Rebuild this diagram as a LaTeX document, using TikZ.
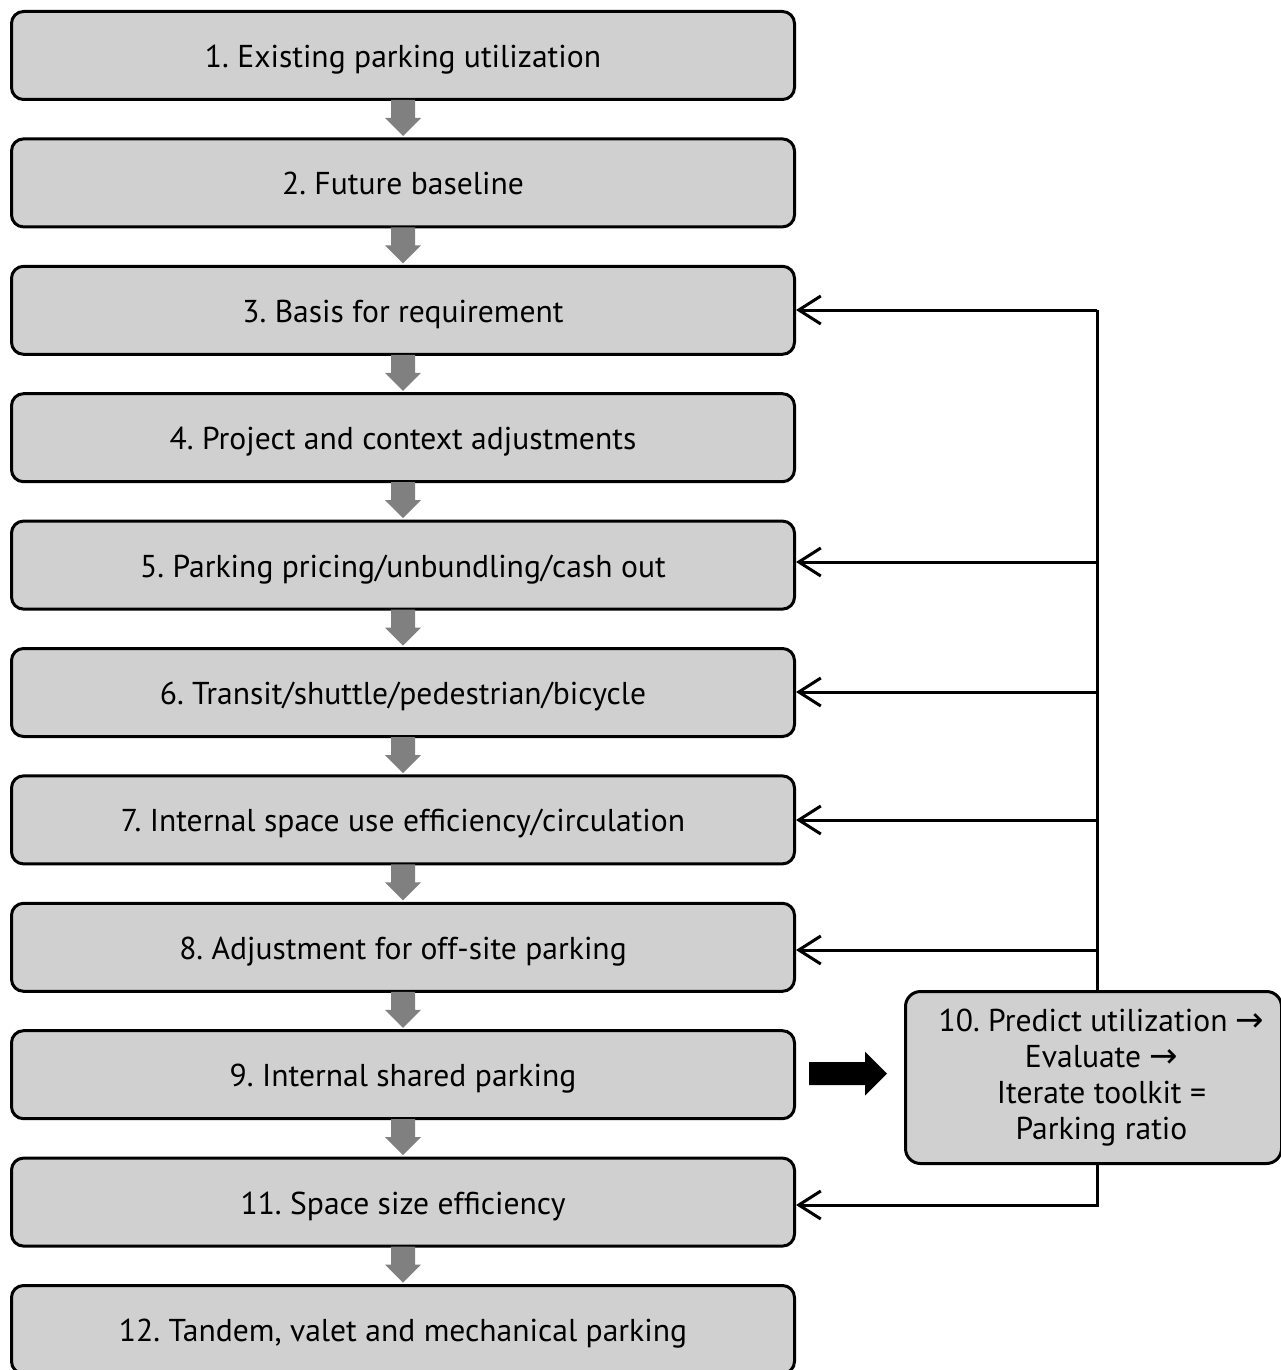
\documentclass[tikz,border=0pt]{standalone}
\usepackage{fontspec}
\setmainfont{PT Sans}
\newfontfamily\symfont{DejaVu Sans}
\usetikzlibrary{arrows.meta}
\newcommand{\rarr}{{\symfont\fontsize{17pt}{15pt}\selectfont→}}
\tikzset{
  x=0.5pt, y=-0.5pt,
  stepbox/.style={draw=black, line width=1.5pt, fill=boxgray, rounded corners=6pt,
    minimum width=391.5pt, minimum height=44pt, inner sep=0pt,
    text height=14pt, text depth=2pt,
    font=\fontsize{15.8pt}{18pt}\selectfont, anchor=north west},
  bigbox/.style={draw=black, line width=1.5pt, fill=boxgray, rounded corners=7.5pt,
    minimum width=188pt, minimum height=86pt, inner sep=0pt, align=center,
    font=\fontsize{15.8pt}{18pt}\selectfont, anchor=north west},
  fb/.style={line width=1.5pt, -{Straight Barb[length=11pt,width=14pt,line width=1.5pt]}},
}
\definecolor{boxgray}{HTML}{D0D0D0}
\definecolor{arrowgray}{HTML}{808080}
\frenchspacing
\begin{document}
\begin{tikzpicture}
\frenchspacing
\useasboundingbox (0,0) rectangle (1280,1370);
% main boxes
\node[stepbox] (b1) at (10,10) {1. Existing parking utilization};
\node[stepbox] (b2) at (10,137.4) {2. Future baseline};
\node[stepbox] (b3) at (10,264.8) {3. Basis for requirement};
\node[stepbox] (b4) at (10,392.2) {4. Project and context adjustments};
\node[stepbox] (b5) at (10,519.6) {5. Parking pricing/unbundling/cash out};
\node[stepbox] (b6) at (10,647) {6. Transit/shuttle/pedestrian/bicycle};
\node[stepbox] (b7) at (10,774.4) {7. Internal space use efficiency/circulation};
\node[stepbox] (b8) at (10,901.8) {8. Adjustment for off-site parking};
\node[stepbox] (b9) at (10,1029.2) {9. Internal shared parking};
\node[stepbox] (b11) at (10,1156.6) {11. Space size efficiency};
\node[stepbox] (b12) at (10,1284) {12. Tandem, valet and mechanical parking};
% box 10
\node[bigbox] (b10) at (904,990) {\hspace*{8pt}10. Predict utilization \rarr\\[0pt] \hspace*{8pt}Evaluate \rarr\\[0pt] \hspace*{8pt}Iterate toolkit =\\[0pt] \hspace*{8pt}Parking ratio};
% gray down arrows
\foreach \a/\b in {b1/b2,b2/b3,b3/b4,b4/b5,b5/b6,b6/b7,b7/b8,b8/b9,b9/b11,b11/b12}{
  \path (\a.south) coordinate (s);
  \fill[arrowgray] (s) ++(-12,-1) -- ++(24,0) -- ++(0,18) -- ++(6,0) -- ++(-18,18) -- ++(-18,-18) -- ++(6,0) -- cycle;
}
% black arrow
\coordinate (ba) at (809,1073.5);
\fill[black] (ba) ++(0,-11.5) -- ++(56,0) -- ++(0,-10.5) -- ++(22,22) -- ++(-22,22) -- ++(0,-10.5) -- ++(-56,0) -- cycle;
% feedback lines
\coordinate (top) at (1097,310);
\coordinate (j5) at (1097,562);
\coordinate (j6) at (1097,692);
\coordinate (j7) at (1097,820);
\coordinate (j8) at (1097,950);
\coordinate (j11) at (1097,1205);
\draw[line width=1.5pt] (top) -- (b10.north -| top);
\draw[fb] (top) -- (b3.east |- top);
\draw[fb] (j5) -- (b5.east |- j5);
\draw[fb] (j6) -- (b6.east |- j6);
\draw[fb] (j7) -- (b7.east |- j7);
\draw[fb] (j8) -- (b8.east |- j8);
\draw[fb] (b10.south -| j11) -- (j11) -- (b11.east |- j11);
\end{tikzpicture}
\end{document}
